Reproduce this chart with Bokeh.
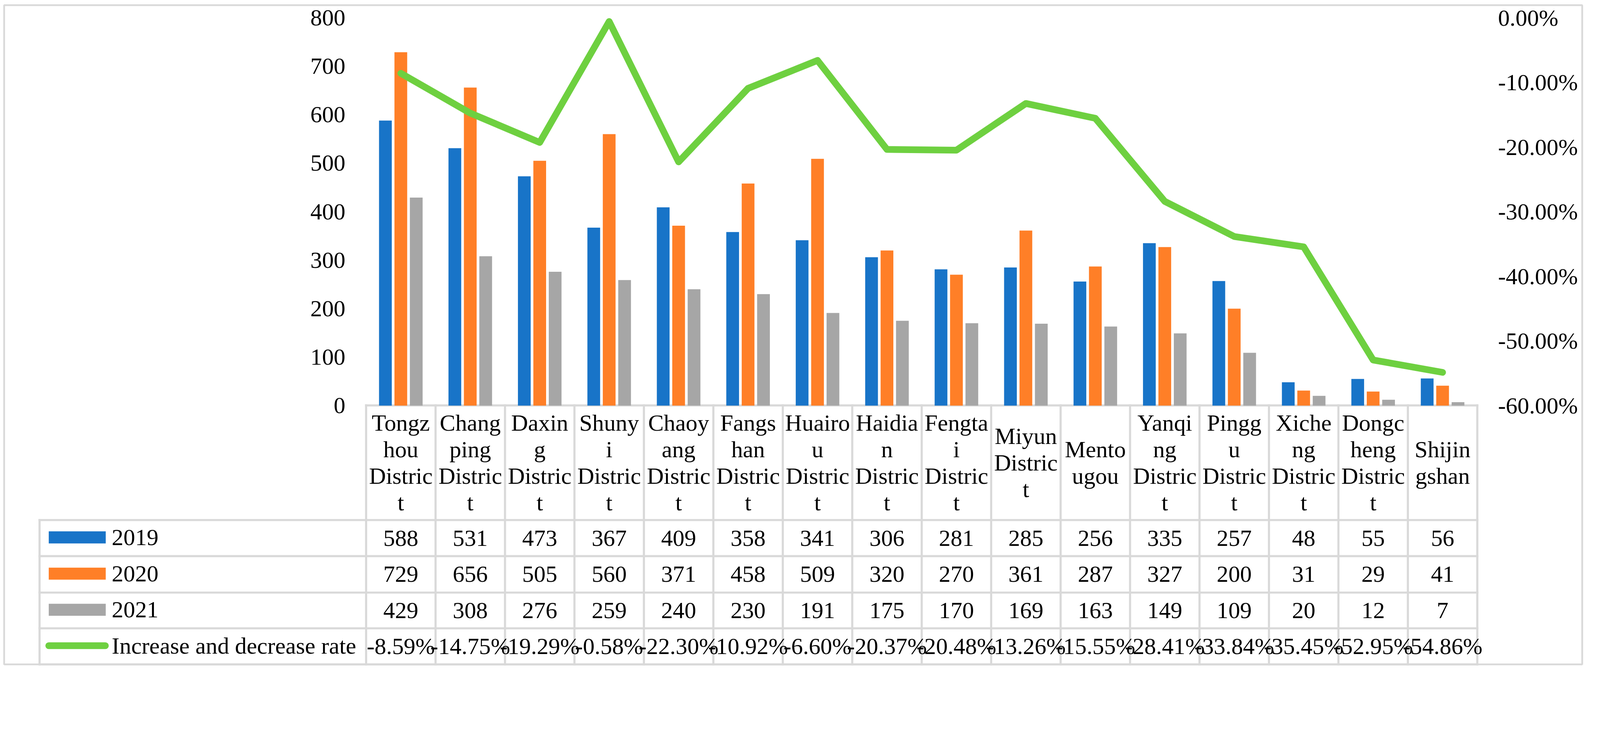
from bokeh.plotting import figure
from bokeh.models import Range1d, LinearAxis, FixedTicker, NumeralTickFormatter
from bokeh.core.properties import value
from bokeh.embed import file_html
from bokeh.resources import INLINE

# ---------------- data ----------------
districts = ["Tongzhou District", "Changping District", "Daxing District", "Shunyi District",
             "Chaoyang District", "Fangshan District", "Huairou District", "Haidian District",
             "Fengtai District", "Miyun District", "Mentougou", "Yanqing District",
             "Pinggu District", "Xicheng District", "Dongcheng District", "Shijingshan"]
header_labels = ["Tongz\nhou\nDistric\nt", "Chang\nping\nDistric\nt", "Daxin\ng\nDistric\nt",
                 "Shuny\ni\nDistric\nt", "Chaoy\nang\nDistric\nt", "Fangs\nhan\nDistric\nt",
                 "Huairo\nu\nDistric\nt", "Haidia\nn\nDistric\nt", "Fengta\ni\nDistric\nt",
                 "Miyun\nDistric\nt", "Mento\nugou", "Yanqi\nng\nDistric\nt",
                 "Pingg\nu\nDistric\nt", "Xiche\nng\nDistric\nt", "Dongc\nheng\nDistric\nt",
                 "Shijin\ngshan"]
series_names = ["2019", "2020", "2021"]
v2019 = [588, 531, 473, 367, 409, 358, 341, 306, 281, 285, 256, 335, 257, 48, 55, 56]
v2020 = [729, 656, 505, 560, 371, 458, 509, 320, 270, 361, 287, 327, 200, 31, 29, 41]
v2021 = [429, 308, 276, 259, 240, 230, 191, 175, 170, 169, 163, 149, 109, 20, 12, 7]
rate_name = "Increase and decrease rate"
rate = [-8.59, -14.75, -19.29, -0.58, -22.30, -10.92, -6.60, -20.37, -20.48, -13.26,
        -15.55, -28.41, -33.84, -35.45, -52.95, -54.86]
left_ticks = [0, 100, 200, 300, 400, 500, 600, 700, 800]
right_ticks = [-0.6, -0.5, -0.4, -0.3, -0.2, -0.1, 0.0]

# ---------------- style / layout ----------------
BLUE, ORANGE, GREY, GREEN = "#1874C8", "#FF7F27", "#A6A6A6", "#6ED040"
LINE_GREY = "#D9D9D9"
FONT = value("Liberation Serif")

# the page is photographed with 1 css px = R screenshot px
R = 4520.0 / 4096.0
def css(v):
    return v / R

FS = "%.1fpx" % css(66)

OFF = 8
W, H = 4080, 1734
N = len(districts)
# geometry below is in screenshot pixels
PLOT_L = 1042.5
COL_W = 196.2
PLOT_R = PLOT_L + COL_W * N
Y0_PX = 1154.5
PX_PER_UNIT = 1.37

FIG_L, FIG_R = OFF * R, (OFF + W) * R
FIG_T, FIG_B = OFF * R, (OFF + H) * R

x0 = (FIG_L - PLOT_L) / COL_W - 0.5
x1 = (FIG_R - PLOT_L) / COL_W - 0.5
yb = (Y0_PX - FIG_B) / PX_PER_UNIT
yt = (Y0_PX - FIG_T) / PX_PER_UNIT

def to_frac(v):
    return (v * 60.0 / 800.0 - 60.0) / 100.0

p = figure(width=W, height=H, output_backend="svg", toolbar_location=None,
           x_axis_location=None, y_axis_location=None,
           x_range=Range1d(x0, x1), y_range=Range1d(yb, yt),
           min_border=0, min_border_left=0, min_border_right=0,
           min_border_top=0, min_border_bottom=0,
           outline_line_color=None, background_fill_color="white",
           border_fill_color="white")
p.extra_y_ranges = {"pct": Range1d(to_frac(yb), to_frac(yt)),
                    "px": Range1d(FIG_B, FIG_T)}
p.extra_x_ranges = {"px": Range1d(FIG_L, FIG_R)}
p.grid.visible = False

# outer border
p.quad(left=[20], right=[4478], top=[23], bottom=[1886], x_range_name="px",
       y_range_name="px", fill_color=None, line_color=LINE_GREY, line_width=css(5))

# table geometry
TAB_L = 120
row_lines = [1478, 1580, 1683, 1784, 1886]
HEAD_TOP = 1154
col_edges = [PLOT_L + COL_W * k for k in range(N + 1)]

sx0, sy0, sx1, sy1 = [], [], [], []
sx0.append(PLOT_L); sx1.append(PLOT_R); sy0.append(HEAD_TOP); sy1.append(HEAD_TOP)
for yy in row_lines:
    sx0.append(TAB_L); sx1.append(PLOT_R); sy0.append(yy); sy1.append(yy)
for xx in col_edges:
    sx0.append(xx); sx1.append(xx); sy0.append(HEAD_TOP); sy1.append(row_lines[-1])
sx0.append(TAB_L); sx1.append(TAB_L); sy0.append(row_lines[0]); sy1.append(row_lines[-1])
p.segment(x0=sx0, y0=sy0, x1=sx1, y1=sy1, x_range_name="px", y_range_name="px",
          line_color=LINE_GREY, line_width=css(6), line_cap="square")

# bars
idx = list(range(N))
BW = 0.1835
DX = 0.222
for vals, col, dx in [(v2019, BLUE, -DX), (v2020, ORANGE, 0.0), (v2021, GREY, DX)]:
    p.vbar(x=[i + dx for i in idx], top=vals, bottom=0, width=BW,
           fill_color=col, line_color=None)

# rate line
p.line(x=idx, y=[r / 100.0 for r in rate], y_range_name="pct", line_color=GREEN,
       line_width=css(19), line_join="round", line_cap="round")

# header (category) labels
p.text(x=idx, y=[(HEAD_TOP + row_lines[0]) / 2.0] * N, y_range_name="px",
       text=header_labels, text_font=FONT, text_font_size=FS, text_color="black",
       text_align="center", text_baseline="middle", text_line_height=1.03)

# table rows
row_centers = [(row_lines[i] + row_lines[i + 1]) / 2.0 for i in range(4)]
row_texts = [[str(v) for v in v2019], [str(v) for v in v2020], [str(v) for v in v2021],
             ["%.2f%%" % r for r in rate]]
for rc, txt in zip(row_centers, row_texts):
    p.text(x=idx, y=[rc] * N, y_range_name="px", text=txt, text_font=FONT,
           text_font_size=FS, text_color="black", text_align="center",
           text_baseline="middle")

# legend column
for rc, col in zip(row_centers[:3], [BLUE, ORANGE, GREY]):
    p.quad(left=[146], right=[307], top=[rc - 19], bottom=[rc + 15], x_range_name="px",
           y_range_name="px", fill_color=col, line_color=None)
p.line(x=[146, 306], y=[row_centers[3] - 2] * 2, x_range_name="px", y_range_name="px",
       line_color=GREEN, line_width=css(19), line_cap="round")
p.text(x=[324] * 4, y=[rc - 2 for rc in row_centers], x_range_name="px", y_range_name="px",
       text=series_names + [rate_name], text_font=FONT, text_font_size=FS,
       text_color="black", text_align="left", text_baseline="middle")

# axes
left = LinearAxis(ticker=FixedTicker(ticks=left_ticks), fixed_location=-0.5,
                  axis_line_color=None, major_tick_line_color=None,
                  minor_tick_line_color=None, major_tick_out=0, major_tick_in=0,
                  major_label_standoff=int(round(css(59))),
                  major_label_text_font="Liberation Serif",
                  major_label_text_font_size=FS, major_label_text_color="black")
p.add_layout(left, "left")
right = LinearAxis(y_range_name="pct", ticker=FixedTicker(ticks=right_ticks),
                   formatter=NumeralTickFormatter(format="0.00%"),
                   fixed_location=N - 0.5,
                   axis_line_color=None, major_tick_line_color=None,
                   minor_tick_line_color=None, major_tick_out=0, major_tick_in=0,
                   major_label_standoff=int(round(css(58))),
                   major_label_text_font="Liberation Serif",
                   major_label_text_font_size=FS, major_label_text_color="black")
p.add_layout(right, "right")

open("out.html", "w").write(file_html(p, INLINE))
